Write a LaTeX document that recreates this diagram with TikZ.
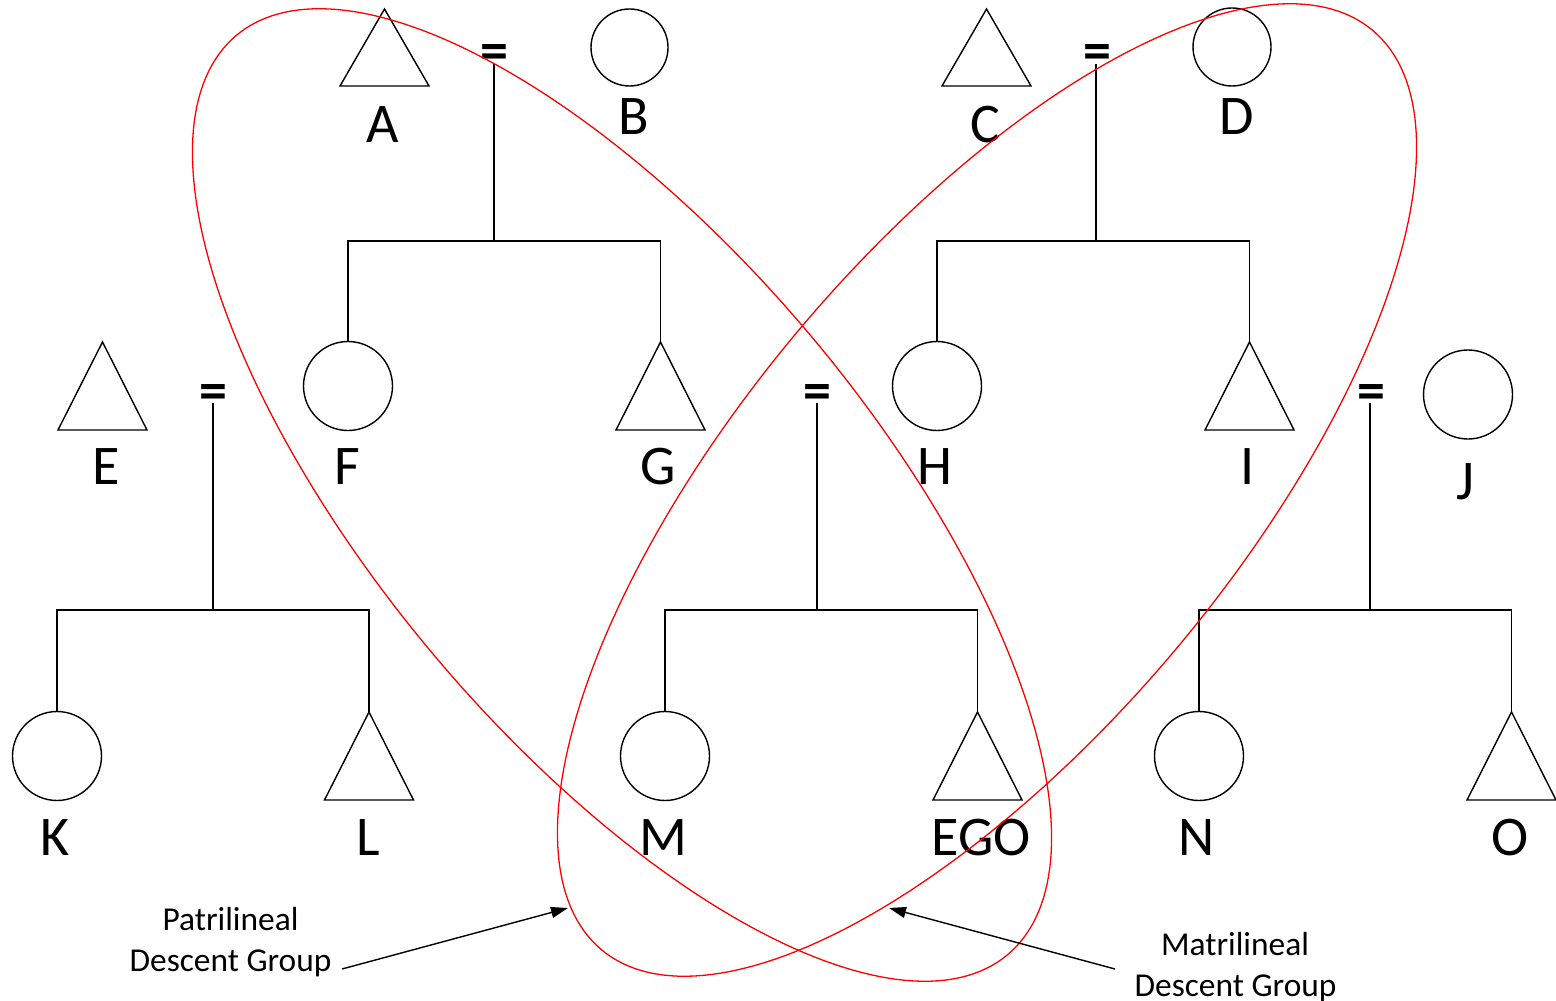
\documentclass[tikz,border=0pt]{standalone}
\usepackage{fontspec}
\setmainfont{Carlito}
\usetikzlibrary{arrows.meta}
\tikzset{
  kin/.style={line width=0.7pt, draw=black},
  male/.style={rectangle, inner sep=0pt, outer sep=0pt, minimum width=44.5pt, minimum height=44pt},
  maletop/.style={male, minimum height=38.5pt},
  female/.style={circle, kin, inner sep=0pt, outer sep=0pt, minimum size=44.5pt},
  femaletop/.style={female, minimum size=38.5pt},
  lbl/.style={font=\fontsize{28}{34}\selectfont, inner sep=0pt, anchor=base},
  eq/.style={font=\fontsize{28}{34}\selectfont\bfseries, inner sep=0pt, outer sep=-3pt, anchor=base},
  grp/.style={draw=red, line width=0.65pt},
  note/.style={font=\fontsize{16.7}{20}\selectfont, inner sep=0pt, anchor=base},
  pointer/.style={kin, -{Triangle[length=8.5pt,width=5.5pt]}}
}
\begin{document}
\begin{tikzpicture}[x=0.5pt, y=-0.5pt]
\useasboundingbox (0,0) rectangle (1556,1000);
% persons
\node[maletop] (A) at (384.5,47.5) {};
\node[femaletop] (B) at (629.5,47.5) {};
\node[maletop] (C) at (986.5,47.5) {};
\node[femaletop, minimum size=39pt] (D) at (1232,47) {};
\node[male] (E) at (102.5,386) {};
\node[female] (F) at (348,386) {};
\node[male] (G) at (660.5,386) {};
\node[female] (H) at (937,386) {};
\node[male] (I) at (1249.5,386) {};
\node[female] (J) at (1468,394.5) {};
\node[female] (K) at (57,756) {};
\node[male] (L) at (369,756) {};
\node[female] (M) at (665,756) {};
\node[male] (EGO) at (977.5,756) {};
\node[female] (N) at (1199,756) {};
\node[male] (O) at (1511.5,756) {};
\foreach \n in {A,C,E,G,I,L,EGO,O}
  \draw[kin] (\n.south west) -- (\n.north) -- (\n.south east) -- cycle;
% labels
\node[lbl] (lA) at (383,143) {A};
\node[lbl] (lB) at (634,135) {B};
\node[lbl] (lC) at (985,143) {C};
\node[lbl] (lD) at (1237,135) {D};
\node[lbl] (lE) at (106,484) {E};
\node[lbl] (lF) at (347,484) {F};
\node[lbl] (lG) at (658,484) {G};
\node[lbl] (lH) at (935,484) {H};
\node[lbl] (lI) at (1248,484) {I};
\node[lbl] (lJ) at (1465,499) {J};
\node[lbl] (lK) at (55,855) {K};
\node[lbl] (lL) at (368,855) {L};
\node[lbl] (lM) at (663,855) {M};
\node[lbl] (lEGO) at (981,855) {EGO};
\node[lbl] (lN) at (1197,855) {N};
\node[lbl] (lO) at (1510,855) {O};
% marriages
\node[eq] (eqAB) at (494.5,70) {=};
\node[eq] (eqCD) at (1097,70) {=};
\node[eq] (eqEK) at (213.5,409) {=};
\node[eq] (eqMM) at (817,409) {=};
\node[eq] (eqNJ) at (1371,409) {=};
\coordinate (jAB) at (494,241);
\coordinate (jCD) at (1096,241);
\coordinate (jEK) at (213,610);
\coordinate (jMM) at (817,610);
\coordinate (jNJ) at (1370,610);
\draw[kin] (eqAB.south -| jAB) -- (jAB);
\draw[kin] (eqCD.south -| jCD) -- (jCD);
\draw[kin] (eqEK.south -| jEK) -- (jEK);
\draw[kin] (eqMM.south -| jMM) -- (jMM);
\draw[kin] (eqNJ.south -| jNJ) -- (jNJ);
\draw[kin] (F.north) |- (jAB) -| (G.north);
\draw[kin] (H.north) |- (jCD) -| (I.north);
\draw[kin] (K.north) |- (jEK) -| (L.north);
\draw[kin] (M.north) |- (jMM) -| (EGO.north);
\draw[kin] (N.north) |- (jNJ) -| (O.north);
% descent groups
\draw[grp] plot[domain=0:360, samples=241, variable=\t]
  ({622+600*cos(50)*cos(\t)-247*sin(50)*sin(\t)}, {495+600*sin(50)*cos(\t)+247*cos(50)*sin(\t)}) -- cycle;
\draw[grp] plot[domain=0:360, samples=241, variable=\t]
  ({987-600*cos(50)*cos(\t)+247*sin(50)*sin(\t)}, {490+600*sin(50)*cos(\t)+247*cos(50)*sin(\t)}) -- cycle;
% annotations
\node[note] (pat1) at (230.5,930) {Patrilineal};
\node[note] (pat2) at (230.5,971) {Descent Group};
\node[note] (mat1) at (1235,955) {Matrilineal};
\node[note] (mat2) at (1235.5,996) {Descent Group};
\coordinate (pa) at (342,969);
\coordinate (pt) at (568,908);
\coordinate (ma) at (1115,969);
\coordinate (mt) at (889,908);
\draw[pointer] (pa) -- (pt);
\draw[pointer] (ma) -- (mt);
\end{tikzpicture}
\end{document}
